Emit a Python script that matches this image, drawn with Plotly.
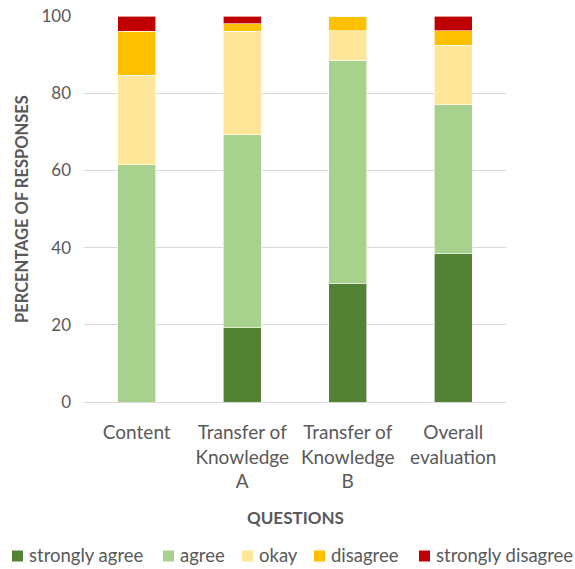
import plotly.graph_objects as go

categories = ["Content", "Transfer of<br>Knowledge<br>A", "Transfer of<br>Knowledge<br>B", "Overall<br>evaluation"]
strongly_agree = [0.0, 19.2, 30.8, 38.5]
agree = [61.5, 50.0, 57.7, 38.5]
okay = [23.1, 26.9, 7.7, 15.4]
disagree = [11.5, 1.9, 3.8, 3.8]
strongly_disagree = [3.9, 2.0, 0.0, 3.8]

series_names = ["strongly agree", "agree", "okay", "disagree", "strongly disagree"]
series_values = [strongly_agree, agree, okay, disagree, strongly_disagree]
colors = ["#548235", "#A9D18E", "#FFE699", "#FFC000", "#C00000"]

FONT = "Lato"
GRAY = "#595959"

W, H = 575, 569
L, R, T, B = 84, 69, 16, 167
PW, PH = W - L - R, H - T - B


def px_x(x):
    return (x - L) / PW


def px_y(y):
    return (H - B - y) / PH


fig = go.Figure()
for name, vals, col in zip(series_names, series_values, colors):
    fig.add_trace(go.Bar(x=categories, y=vals, name=name, showlegend=False,
                         marker=dict(color=col, line=dict(color="white", width=0.6))))

# manual legend (single row, like the reference)
legend_square_left = [12, 163, 242, 314, 419]
legend_y = 556
shapes = []
annotations = []
for name, col, sx in zip(series_names, colors, legend_square_left):
    shapes.append(dict(type="rect", xref="paper", yref="paper",
                       x0=px_x(sx), x1=px_x(sx + 11), y0=px_y(legend_y + 5.5), y1=px_y(legend_y - 5.5),
                       fillcolor=col, line=dict(width=0)))
    annotations.append(dict(text=name, xref="paper", yref="paper", x=px_x(sx + 15), y=px_y(legend_y - 1),
                            xanchor="left", yanchor="middle", showarrow=False,
                            font=dict(size=18.5, color=GRAY, family=FONT)))

annotations += [
    dict(text="<b>PERCENTAGE OF RESPONSES</b>", textangle=-90,
         xref="paper", yref="paper", x=px_x(22), y=0.5, xanchor="center", yanchor="middle",
         showarrow=False, font=dict(size=16.5, color=GRAY, family=FONT)),
    dict(text="<b>QUESTIONS</b>", xref="paper", yref="paper",
         x=0.5, y=px_y(517), xanchor="center", yanchor="middle",
         showarrow=False, font=dict(size=17, color=GRAY, family=FONT)),
]

fig.update_layout(
    barmode="stack",
    bargap=0.64,
    width=W, height=H,
    margin=dict(l=L, r=R, t=T, b=B, autoexpand=False),
    paper_bgcolor="white", plot_bgcolor="white",
    font=dict(family=FONT, size=17, color=GRAY),
    showlegend=False,
    shapes=shapes,
    annotations=annotations,
)
fig.update_yaxes(range=[0, 100], dtick=20, showgrid=True, gridcolor="#D9D9D9", gridwidth=1,
                 zeroline=False, showline=False, ticks="", ticklabelstandoff=12,
                 tickfont=dict(size=17, color=GRAY))
fig.update_xaxes(showline=True, linecolor="#D9D9D9", linewidth=1, ticks="",
                 tickfont=dict(size=19, color=GRAY), ticklabelstandoff=13)

fig.write_html("out.html")
